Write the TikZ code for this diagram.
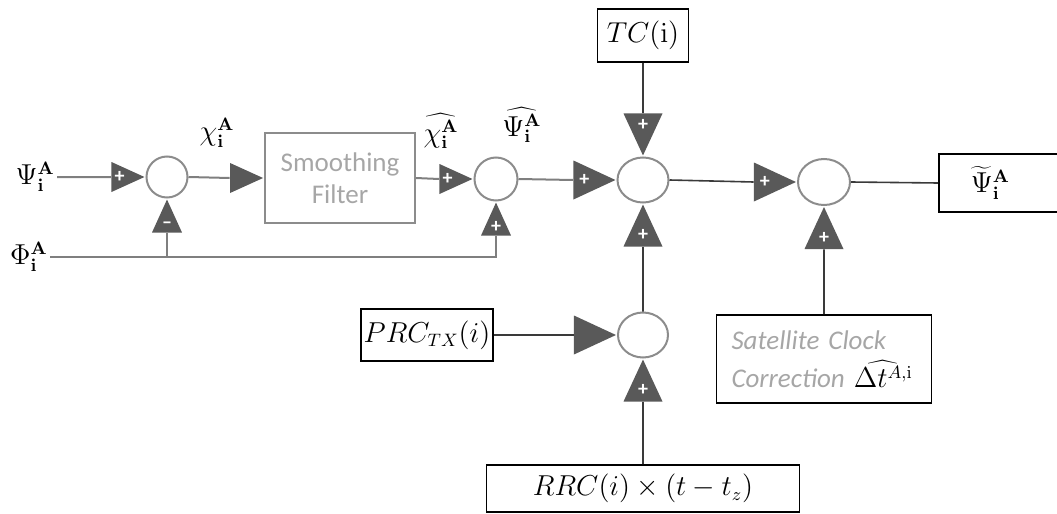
\documentclass[tikz,border=0pt]{standalone}
\usepackage[no-math]{fontspec}
\setmainfont{Carlito}
\usepackage{tikz}
\usetikzlibrary{positioning, shapes.geometric}
\usepackage{xcolor}
\definecolor{linegray}{HTML}{7F7F7F}
\definecolor{sumgray}{HTML}{8C8C8C}
\definecolor{trigray}{HTML}{595959}
\definecolor{boxgray}{HTML}{8C8C8C}
\definecolor{textgray}{HTML}{A6A6A6}
\definecolor{wiregray}{HTML}{3A3A3A}

\begin{document}
\begin{tikzpicture}[
  x=0.5pt, y=-0.5pt,
  font=\fontsize{13.5}{16}\selectfont,
  sum/.style={ellipse, draw=sumgray, line width=1pt, inner sep=0pt},
  tri/.style={isosceles triangle, isosceles triangle stretches, fill=trigray, inner sep=0pt, text=white, font=\bfseries\fontsize{10}{10}\selectfont},
  tright/.style={tri, shape border rotate=0},
  tup/.style={tri, shape border rotate=90},
  tdown/.style={tri, shape border rotate=270},
  tsmall/.style={minimum width=15pt, minimum height=16.5pt},
  tbig/.style={minimum width=19.5pt, minimum height=21pt},
  mbox/.style={rectangle, draw=black, line width=0.9pt, align=center},
  sig/.style={draw=linegray, line width=1pt},
  wire/.style={draw=wiregray, line width=0.8pt}
]
\useasboundingbox (0,0) rectangle (1057,514);

% Summing points
\node[sum, minimum width=20.5pt, minimum height=20.5pt] (s1) at (167,177) {};
\node[sum, minimum width=21.5pt, minimum height=21.5pt] (s2) at (496,179) {};
\node[sum, minimum width=25.5pt, minimum height=22.5pt] (s3) at (643,180) {};
\node[sum, minimum width=26pt, minimum height=23pt] (s4) at (824,182) {};
\node[sum, minimum width=25pt, minimum height=22.5pt] (s5) at (643,335) {};

% Blocks
\node[mbox, draw=boxgray, text=textgray, minimum width=75pt, minimum height=45pt] (filter) at (340,178) {Smoothing\\Filter};
\node[mbox, minimum width=45.5pt, minimum height=26.5pt] (tc) at (643,35.5) {$TC(\mathrm{i})$};
\node[mbox, minimum width=66pt, minimum height=26pt, inner xsep=1pt] (prc) at (427,335) {$PRC_{TX}(i)$};
\node[mbox, minimum width=156.5pt, minimum height=23.5pt] (rrc) at (643,488.5) {$RRC(i)\times(t-t_z)$};
\node[mbox, minimum width=107.5pt, minimum height=44pt, inner xsep=7.5pt, text width=92.5pt, align=left, text=textgray, font=\itshape\fontsize{13.5}{19}\selectfont] (sat) at (824,359) {Satellite Clock\\Correction \textcolor{black}{$\widehat{\Delta t^{A,\mathrm{i}}}$}};
\node[mbox, anchor=west, minimum width=70pt, minimum height=29pt, inner xsep=16pt, text width=38pt, align=left] (out) at (938,183) {$\widetilde{\Psi}_{\mathbf i}^{\mathbf A}$};

% Signal labels
\node[anchor=east, inner sep=1pt] (psi) at (57,177) {$\Psi_{\mathbf i}^{\mathbf A}$};
\node[anchor=east, inner sep=1pt] (phi) at (50,257) {$\Phi_{\mathbf i}^{\mathbf A}$};
\node[inner sep=1pt] (chi) at (217,133) {$\chi_{\mathbf i}^{\mathbf A}$};
\node[inner sep=1pt] (chihat) at (441,131) {$\widehat{\chi_{\mathbf i}^{\mathbf A}}$};
\node[inner sep=1pt] (psihat) at (522,125) {$\widehat{\Psi_{\mathbf i}^{\mathbf A}}$};

% Input signs
\node[tright, tsmall, left=0pt of s1] (t1) {+};
\node[tup, tsmall, below=0pt of s1] (t2) {--};
\node[tright, tsmall, left=0pt of filter] (t3) {};
\node[tright, tsmall, left=0pt of s2] (t4) {+};
\node[tup, tsmall, below=0pt of s2] (t5) {+};
\node[tright, tbig, left=0pt of s3] (t6) {+};
\node[tdown, tbig, above=0pt of s3] (t7) {+};
\node[tup, tbig, below=0pt of s3] (t8) {+};
\node[tright, tbig, left=0pt of s4] (t9) {+};
\node[tup, tbig, below=0pt of s4] (t10) {+};
\node[tright, tbig, left=0pt of s5] (t11) {};
\node[tup, tbig, below=0pt of s5] (t12) {+};

% Connections
\draw[sig] (psi.east) -- (t1.lower side);
\draw[sig] (phi.east) -| (t5.lower side);
\draw[sig] (t2.lower side) -- (t2.lower side |- phi.east);
\draw[sig] (s1.east) -- (t3.lower side);
\draw[sig] (filter.east) -- (t4.lower side);
\draw[sig] (s2.east) -- (t6.lower side);
\draw[wire] (tc.south) -- (t7.lower side);
\draw[wire] (s3.east) -- (t9.lower side);
\draw[wire] (s5.north) -- (t8.lower side);
\draw[wire] (prc.east) -- (t11.lower side);
\draw[wire] (rrc.north) -- (t12.lower side);
\draw[wire] (sat.north) -- (t10.lower side);
\draw[wire] (s4.east) -- (out.west);

\end{tikzpicture}
\end{document}
